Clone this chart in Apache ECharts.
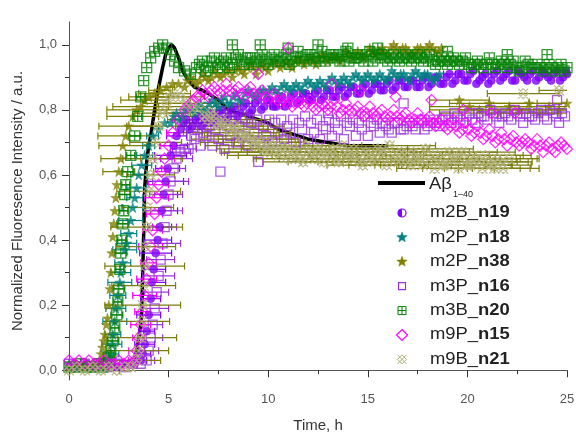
<!DOCTYPE html>
<html>
<head>
<meta charset="utf-8">
<script src="https://cdn.jsdelivr.net/npm/echarts@6/dist/echarts.min.js"></script>
<style>
  html, body { margin: 0; padding: 0; background: #fff; }
  #chart { width: 576px; height: 434px; }
</style>
</head>
<body>
<div id="chart"></div>
<script>
// ThT kinetics: normalized fluorescence vs time (h).
// Each point is [time, intensity, horizontal error (h)].

const abeta = [[0,0.01],[0.5,0.01],[1,0.01],[1.5,0.01],[2,0.01],[2.5,0.01],[3,0.02],[3.2,0.02],[3.4,0.06],[3.5,0.10],[3.6,0.14],[3.65,0.18],[3.7,0.30],[3.75,0.42],[3.8,0.56],[3.9,0.64],[4.0,0.69],[4.1,0.72],[4.3,0.80],[4.5,0.87],[4.7,0.93],[4.85,0.97],[5.0,0.99],[5.15,1.0],[5.3,0.99],[5.5,0.96],[5.7,0.92],[6.0,0.89],[6.3,0.87],[6.7,0.86],[7.0,0.85],[7.5,0.83],[8,0.80],[8.5,0.79],[9,0.78],[9.5,0.77],[10,0.76],[10.5,0.74],[11,0.73],[12,0.71],[13,0.70],[14,0.69],[15,0.69],[16,0.69]];

const m2B_n19 = [[0,0.01],[0.3,0.02],[0.6,0.01],[0.9,0.02],[1.2,0.01],[1.5,0.02],[1.8,0.01],[2.1,0.02],[2.4,0.01],[2.7,0.02],[3.0,0.02],[3.3,0.02],
  [3.6,0.03,0.3],[3.7,0.05,0.4],[3.8,0.08,0.5],[3.9,0.12,0.4],[4.0,0.17,0.6],[4.1,0.22,0.5],[4.15,0.27,0.7],[4.25,0.31,0.6],[4.35,0.36,0.8],[4.45,0.4,0.7],[4.55,0.44,0.6],[4.65,0.49,0.8],[4.75,0.54,0.7],[4.85,0.58,0.9],[4.95,0.62,0.6],[5.1,0.66,0.8],[5.25,0.69,0.7],[5.4,0.72,0.5],
  [5.6,0.74],[5.9,0.77,0.3],[6.2,0.75],[6.5,0.78],[6.8,0.76,0.4],[7.1,0.79],[7.4,0.77],[7.7,0.80,0.3],[8.0,0.78],[8.3,0.81],[8.6,0.79],[8.9,0.82,0.3],[9.2,0.80],[9.5,0.83],[9.8,0.81],[10.1,0.83],[10.4,0.81,0.3],[10.7,0.84],[11.0,0.82],[11.3,0.85],[11.6,0.83],[11.9,0.85,0.3],[12.2,0.83],[12.5,0.86],[12.8,0.84],[13.1,0.86],[13.4,0.84],[13.7,0.87,0.3],[14.0,0.85],[14.3,0.87],[14.6,0.85],[14.9,0.88],[15.2,0.86],[15.5,0.88,0.3],[15.8,0.86],[16.1,0.89],[16.4,0.87],[16.7,0.89],[17.0,0.87],[17.3,0.89,0.3],[17.6,0.87],[17.9,0.90],[18.2,0.88],[18.5,0.90],[18.8,0.88],[19.1,0.91,0.3],[19.4,0.89],[19.7,0.91],[20.0,0.89],[20.3,0.92],[20.6,0.89],[20.9,0.91,0.3],[21.2,0.89],[21.5,0.92],[21.8,0.90],[22.1,0.92],[22.4,0.89],[22.7,0.91,0.3],[23.0,0.89],[23.3,0.92],[23.6,0.90],[23.9,0.91],[24.2,0.89],[24.5,0.92,0.3],[24.8,0.90],[25.0,0.91],
  [5.75,0.76],[6.05,0.74],[6.35,0.77],[6.65,0.75],[6.95,0.78],[7.25,0.76],[7.55,0.79],[7.85,0.77],[8.15,0.80],[8.45,0.78],[8.75,0.81],[9.05,0.79],[9.35,0.82],[9.65,0.80],[9.95,0.83],[10.25,0.81],[10.55,0.83],[10.85,0.81],[11.15,0.84],[11.45,0.82],[11.75,0.85],[12.05,0.83],[12.35,0.85],[12.65,0.83],[12.95,0.86],[13.25,0.84],[13.55,0.86],[13.85,0.84],[14.15,0.87],[14.45,0.85],[14.75,0.87],[15.05,0.85],[15.35,0.88],[15.65,0.86],[15.95,0.88],[16.25,0.86],[16.55,0.89],[16.85,0.87],[17.15,0.89],[17.45,0.87],[17.75,0.89],[18.05,0.87],[18.35,0.90],[18.65,0.88],[18.95,0.90],[19.25,0.88],[19.55,0.91],[19.85,0.89],[20.15,0.91],[20.45,0.88],[20.75,0.90],[21.05,0.88],[21.35,0.91],[21.65,0.89],[21.95,0.91],[22.25,0.89],[22.55,0.92],[22.85,0.90],[23.15,0.91],[23.45,0.89],[23.75,0.92],[24.05,0.90],[24.35,0.91],[24.65,0.89],[24.95,0.92]];

const m2P_n18 = [[0,0.02],[0.3,0.01],[0.6,0.02],[0.9,0.01],[1.2,0.02],[1.5,0.01],[1.8,0.02],
  [2.05,0.03,0.3],[2.1,0.05,0.4],[2.15,0.08,0.5],[2.2,0.11,0.4],[2.3,0.15,0.6],[2.35,0.19,0.5],[2.45,0.23,0.4],[2.55,0.27,0.6],[2.6,0.3,0.5],[2.7,0.33,0.4],[2.8,0.37,0.6],[2.9,0.39,0.5],[3.0,0.42,0.4],[3.1,0.46,0.6],[3.2,0.5,0.5],[3.3,0.53,0.4],[3.4,0.56,0.5],[3.5,0.6,0.4],[3.65,0.63,0.5],[3.8,0.66,0.4],[4.0,0.69,0.3],[4.2,0.72,0.3],[4.5,0.74],[4.8,0.76],
  [5.1,0.76],[5.4,0.79],[5.7,0.78],[6.0,0.81],[6.3,0.79],[6.6,0.82],[6.9,0.80],[7.2,0.83],[7.5,0.81],[7.8,0.84],[8.1,0.82],[8.4,0.85],[8.7,0.83],[9.0,0.86],[9.3,0.84],[9.6,0.86],[9.9,0.85],[10.2,0.87],[10.5,0.85],[10.8,0.88],[11.1,0.86],[11.4,0.88],[11.7,0.86],[12.0,0.89],[12.3,0.87],[12.6,0.89],[12.9,0.87],[13.2,0.90],[13.5,0.88],[13.8,0.90],[14.1,0.88],[14.4,0.91],[14.7,0.89],[15.0,0.91],[15.3,0.89],[15.6,0.91],[15.9,0.89],[16.2,0.92],[16.5,0.90],[16.8,0.91],[17.1,0.89],[17.4,0.92],[17.7,0.90],[18.0,0.91],[18.3,0.89],[18.6,0.91],
  [5.25,0.78],[5.55,0.77],[5.85,0.80],[6.15,0.80],[6.45,0.81],[6.75,0.80],[7.05,0.82],[7.35,0.82],[7.65,0.83],[7.95,0.82],[8.25,0.84],[8.55,0.83],[8.85,0.85],[9.15,0.85],[9.45,0.85],[9.75,0.86],[10.05,0.86],[10.35,0.86],[10.65,0.87],[10.95,0.87],[11.25,0.87],[11.55,0.87],[11.85,0.88],[12.15,0.88],[12.45,0.88],[12.75,0.88],[13.05,0.89],[13.35,0.89],[13.65,0.89],[13.95,0.89],[14.25,0.90],[14.55,0.90],[14.85,0.90],[15.15,0.90],[15.45,0.90],[15.75,0.90],[16.05,0.90],[16.35,0.91],[16.65,0.91],[16.95,0.90],[17.25,0.91],[17.55,0.91],[17.85,0.91],[18.15,0.90],[18.45,0.90]];

const m2P_n38 = [[0,0.01],[0.3,0.02],[0.6,0.01],[0.9,0.01],[1.2,0.02],
  [1.5,0.02],[1.56,0.03],[1.62,0.05],[1.68,0.07],[1.75,0.09],[1.8,0.11],[1.87,0.14],[1.93,0.16],[2.0,0.2],[2.05,0.25],[2.1,0.3],[2.15,0.36],[2.2,0.41],[2.25,0.45],[2.3,0.49],[2.35,0.53],[2.4,0.57],[2.5,0.61,0.8],[2.6,0.65,1.0],[2.7,0.69,1.2],[2.85,0.72,1.4],[3.0,0.75,1.5],[3.2,0.78,1.3],[3.4,0.80,1.5],[3.6,0.81,1.4],[3.8,0.83,1.2],[4.0,0.84,1.0],[4.3,0.85,0.8],[4.6,0.86,0.6],[4.9,0.87,0.4],[5.2,0.88],[5.5,0.88],
  [5.8,0.87],[6.1,0.90],[6.4,0.88],[6.7,0.91],[7.0,0.89],[7.3,0.92],[7.6,0.90],[7.9,0.92],[8.2,0.90],[8.5,0.93],[8.8,0.91],[9.1,0.94],[9.4,0.91],[9.7,0.94],[10.0,0.92],[10.3,0.95],[10.6,0.93],[10.9,0.95],[11.2,0.93],[11.5,0.96],[11.8,0.94],[12.1,0.96],[12.4,0.94],[12.7,0.97],[13.0,0.95],[13.3,0.97],[13.6,0.95],[13.9,0.98],[14.2,0.96],[14.5,0.98],[14.8,0.96],[15.1,0.99],[15.4,0.97],[15.7,0.99],[16.0,0.97],[16.3,1.0],[16.6,0.98],[16.9,0.99],[17.2,0.97],[17.5,0.99],[17.8,0.98],[18.1,1.0],[18.4,0.98],[18.7,0.99],
  [5.95,0.89],[6.25,0.89],[6.55,0.89],[6.85,0.90],[7.15,0.90],[7.45,0.91],[7.75,0.91],[8.05,0.92],[8.35,0.92],[8.65,0.92],[8.95,0.93],[9.25,0.93],[9.55,0.93],[9.85,0.93],[10.15,0.94],[10.45,0.94],[10.75,0.94],[11.05,0.94],[11.35,0.95],[11.65,0.95],[11.95,0.95],[12.25,0.95],[12.55,0.96],[12.85,0.96],[13.15,0.96],[13.45,0.96],[13.75,0.96],[14.05,0.97],[14.35,0.97],[14.65,0.97],[14.95,0.97],[15.25,0.98],[15.55,0.98],[15.85,0.98],[16.15,0.99],[16.45,0.99],[16.75,0.99],[17.05,0.98],[17.35,0.98],[17.65,0.99],[17.95,0.99],[18.25,0.99],[18.55,0.98],
  [19.6,0.83,1.5],[20.1,0.81,2.0],[20.6,0.80,2.5],[21.1,0.82,2.0],[21.6,0.79,3.0],[22.1,0.81,2.5],[22.6,0.80,3.0],[23.1,0.82,2.0],[23.6,0.79,2.5],[24.1,0.81,3.0],[24.6,0.80,2.0],[25.0,0.82,1.5]];

const m3P_n16 = [[0,0.02],[0.4,0.01],[0.8,0.02],[1.2,0.01],[1.6,0.02],[2.0,0.01],[2.4,0.02],[2.8,0.01],[3.2,0.02],[3.6,0.02],
  [3.9,0.03,0.4],[4.0,0.06,0.5],[4.1,0.1,0.6],[4.2,0.14,0.5],[4.3,0.19,0.7],[4.4,0.24,0.6],[4.5,0.29,0.8],[4.6,0.34,0.7],[4.7,0.39,0.9],[4.8,0.44,0.6],[4.9,0.49,0.8],[5.0,0.54,0.7],[5.1,0.58,0.9],[5.25,0.62,0.6],[5.4,0.65,0.8],[5.6,0.67,0.5],[5.8,0.68,0.6],
  [6.0,0.68],[6.3,0.71],[6.6,0.69],[6.9,0.72],[7.2,0.69],[7.5,0.71],[7.8,0.68],[8.1,0.72],[8.4,0.70],[8.7,0.72],[9.0,0.69],[9.3,0.73],[9.6,0.70],[9.9,0.72],[10.2,0.70],[10.5,0.73],[10.8,0.71],[11.1,0.73],[11.4,0.70],[11.7,0.74],[12.0,0.71],[12.3,0.73],[12.6,0.71],[12.9,0.74],[13.2,0.72],[13.5,0.74],[13.8,0.71],[14.1,0.75],[14.4,0.72],[14.7,0.74],[15.0,0.72],[15.3,0.75],[15.6,0.73],[15.9,0.75],[16.2,0.73],[16.5,0.76],[16.8,0.74],[17.1,0.76],[17.4,0.74],[17.7,0.77],[18.0,0.75],[18.3,0.77],[18.6,0.75],[18.9,0.78],[19.2,0.76],[19.5,0.78],[19.8,0.76],[20.1,0.79],[20.4,0.76],[20.7,0.78],[21.0,0.77],[21.3,0.79],[21.6,0.76],[21.9,0.79],[22.2,0.77],[22.5,0.79],[22.8,0.76],[23.1,0.78],[23.4,0.77],[23.7,0.80],[24.0,0.77],[24.3,0.79],[24.6,0.76],[24.9,0.78],
  [6.15,0.72],[6.45,0.74],[6.75,0.73],[7.05,0.75],[7.35,0.74],[7.65,0.76],[7.95,0.75],[8.25,0.77],[8.55,0.75],[8.85,0.77],[9.15,0.76],[9.45,0.77],[9.75,0.75],[10.05,0.77],[10.35,0.76],[10.65,0.77],[10.95,0.75],[11.25,0.77],[11.55,0.76],[11.85,0.78],[12.15,0.76],[12.45,0.77],[12.75,0.75],[13.05,0.77],[13.35,0.76],[13.65,0.78],[13.95,0.76],[14.25,0.77],[14.55,0.76],[14.85,0.78],[15.15,0.76],[15.45,0.77],[15.75,0.76],[16.05,0.74],[16.35,0.76],[16.65,0.74],[16.95,0.75],[17.25,0.75],[17.55,0.76],[17.85,0.74],[18.15,0.76],[18.45,0.76],[18.75,0.77],[19.05,0.77],[19.35,0.79],[19.65,0.77],[19.95,0.78],[20.25,0.77],[20.55,0.79],[20.85,0.78],[21.15,0.80],[21.45,0.78],[21.75,0.78],[22.05,0.78],[22.35,0.80],[22.65,0.78],[22.95,0.79],[23.25,0.78],[23.55,0.79],[23.85,0.78],[24.15,0.80],[24.45,0.78],[24.75,0.79],
  [7.6,0.61],[9.5,0.64],[13.0,0.79],[16.8,0.82],[24.5,0.83]];

const m3B_n20 = [[0,0.01],[0.3,0.01],[0.6,0.02],[0.9,0.01],[1.2,0.01],[1.5,0.02],[1.7,0.01],
  [1.9,0.02,0.2],[2.0,0.04,0.3],[2.1,0.06,0.2],[2.2,0.09,0.3],[2.3,0.13,0.2],[2.4,0.17,0.3],[2.45,0.21,0.2],[2.5,0.25,0.3],[2.55,0.31,0.2],[2.6,0.36,0.3],[2.65,0.40,0.2],[2.7,0.45,0.3],[2.75,0.49,0.2],[2.8,0.54,0.3],[2.85,0.57,0.2],[2.95,0.61,0.3],[3.1,0.66,0.2],[3.3,0.72,0.3],[3.45,0.78,0.2],[3.6,0.84,0.2],[3.75,0.89],[3.9,0.93],[4.1,0.96],[4.3,0.98],[4.5,0.99],[4.7,1.0],[4.9,0.99],[5.1,0.97],[5.3,0.95],[5.5,0.93],[5.8,0.92],[6.1,0.91],
  [6.4,0.93],[6.7,0.95],[7.0,0.93],[7.3,0.96],[7.6,0.94],[7.9,0.96],[8.2,0.94],[8.5,0.97],[8.8,0.94],[9.1,0.96],[9.4,0.95],[9.7,0.97],[10.0,0.94],[10.3,0.97],[10.6,0.95],[10.9,0.97],[11.2,0.95],[11.5,0.98],[11.8,0.95],[12.1,0.97],[12.4,0.95],[12.7,0.98],[13.0,0.96],[13.3,0.97],[13.6,0.95],[13.9,0.98],[14.2,0.96],[14.5,0.97],[14.8,0.95],[15.1,0.98],[15.4,0.96],[15.7,0.97],[16.0,0.95],[16.3,0.97],[16.6,0.95],[16.9,0.97],[17.2,0.95],[17.5,0.97],[17.8,0.95],[18.1,0.97],[18.4,0.94],[18.7,0.96],[19.0,0.94],[19.3,0.96],[19.6,0.94],[19.9,0.96],[20.2,0.93],[20.5,0.95],[20.8,0.93],[21.1,0.96],[21.4,0.93],[21.7,0.95],[22.0,0.93],[22.3,0.95],[22.6,0.92],[22.9,0.95],[23.2,0.93],[23.5,0.94],[23.8,0.92],[24.1,0.94],[24.4,0.92],[24.7,0.94],[25.0,0.93],
  [6.55,0.94],[6.85,0.92],[7.15,0.95],[7.45,0.93],[7.75,0.95],[8.05,0.93],[8.35,0.96],[8.65,0.95],[8.95,0.96],[9.25,0.94],[9.55,0.96],[9.85,0.95],[10.15,0.96],[10.45,0.95],[10.75,0.96],[11.05,0.94],[11.35,0.96],[11.65,0.96],[11.95,0.97],[12.25,0.96],[12.55,0.96],[12.85,0.95],[13.15,0.97],[13.45,0.96],[13.75,0.97],[14.05,0.95],[14.35,0.96],[14.65,0.96],[14.95,0.97],[15.25,0.95],[15.55,0.97],[15.85,0.96],[16.15,0.96],[16.45,0.96],[16.75,0.96],[17.05,0.96],[17.35,0.96],[17.65,0.96],[17.95,0.96],[18.25,0.95],[18.55,0.95],[18.85,0.95],[19.15,0.95],[19.45,0.95],[19.75,0.95],[20.05,0.94],[20.35,0.94],[20.65,0.94],[20.95,0.94],[21.25,0.94],[21.55,0.94],[21.85,0.94],[22.15,0.94],[22.45,0.93],[22.75,0.93],[23.05,0.94],[23.35,0.93],[23.65,0.93],[23.95,0.93],[24.25,0.93],[24.55,0.93],[24.85,0.92],
  [8.2,1.0],[9.6,1.0],[11.0,0.99],[12.5,1.0],[14.0,0.99],[15.5,0.99],[19.0,0.98],[22.0,0.97],[24.0,0.97]];

const m9P_n15 = [[0,0.03],[0.25,0.02],[0.5,0.03],[0.75,0.02],[1.0,0.03],[1.25,0.02],[1.5,0.02],[1.75,0.03],[2.0,0.02],[2.25,0.02],[2.5,0.03],[2.75,0.02],[3.0,0.03],[3.2,0.02],
  [3.3,0.03,0.3],[3.4,0.06,0.4],[3.5,0.1,0.3],[3.6,0.14,0.5],[3.7,0.18,0.4],[3.8,0.23,0.6],[3.9,0.28,0.5],[4.0,0.33,0.4],[4.1,0.38,0.6],[4.2,0.43,0.5],[4.3,0.48,0.4],[4.4,0.53,0.6],[4.5,0.57,0.5],[4.65,0.61,0.4],[4.8,0.65,0.5],[5.0,0.69,0.4],[5.2,0.73,0.3],[5.5,0.77,0.3],
  [5.8,0.80],[6.1,0.82],[6.4,0.84],[6.7,0.86],[7.0,0.84],[7.3,0.87],[7.6,0.85],[7.9,0.88],[8.2,0.85],[8.5,0.87],[8.8,0.84],[9.1,0.87],[9.4,0.84],[9.7,0.86],[10.0,0.83],[10.3,0.85],[10.6,0.82],[10.9,0.84],[11.2,0.81],[11.5,0.84],[11.8,0.81],[12.1,0.83],[12.4,0.80],[12.7,0.82],[13.0,0.80],[13.3,0.83],[13.6,0.79],[13.9,0.82],[14.2,0.79],[14.5,0.81],[14.8,0.78],[15.1,0.81],[15.4,0.78],[15.7,0.80],[16.0,0.77],[16.3,0.80],[16.6,0.77],[16.9,0.79],[17.2,0.76],[17.5,0.79],[17.8,0.76],[18.1,0.78],[18.4,0.75],[18.7,0.77],[19.0,0.74],[19.3,0.77],[19.6,0.73],[19.9,0.76],[20.2,0.72],[20.5,0.75],[20.8,0.71],[21.1,0.74],[21.4,0.70],[21.7,0.73],[22.0,0.69],[22.3,0.72],[22.6,0.69],[22.9,0.71],[23.2,0.68],[23.5,0.71],[23.8,0.67],[24.1,0.70],[24.4,0.67],[24.7,0.70],[25.0,0.68],
  [5.95,0.81],[6.25,0.83],[6.55,0.84],[6.85,0.85],[7.15,0.86],[7.45,0.86],[7.75,0.86],[8.05,0.86],[8.35,0.86],[8.65,0.85],[8.95,0.86],[9.25,0.85],[9.55,0.85],[9.85,0.84],[10.15,0.84],[10.45,0.83],[10.75,0.83],[11.05,0.82],[11.35,0.82],[11.65,0.82],[11.95,0.82],[12.25,0.81],[12.55,0.81],[12.85,0.81],[13.15,0.81],[13.45,0.81],[13.75,0.80],[14.05,0.80],[14.35,0.80],[14.65,0.79],[14.95,0.79],[15.25,0.79],[15.55,0.79],[15.85,0.78],[16.15,0.78],[16.45,0.78],[16.75,0.78],[17.05,0.77],[17.35,0.77],[17.65,0.77],[17.95,0.77],[18.25,0.76],[18.55,0.76],[18.85,0.75],[19.15,0.75],[19.45,0.75],[19.75,0.74],[20.05,0.74],[20.35,0.73],[20.65,0.73],[20.95,0.72],[21.25,0.72],[21.55,0.71],[21.85,0.71],[22.15,0.71],[22.45,0.70],[22.75,0.70],[23.05,0.70],[23.35,0.69],[23.65,0.69],[23.95,0.69],[24.25,0.68],[24.55,0.69],[24.85,0.69],
  [9.5,0.91],[11.0,0.99],[13.2,0.88],[14.6,0.86],[16.4,0.84],[18.2,0.83],[19.8,0.80],[21.2,0.79],[22.4,0.79]];

const m9B_n21 = [[0,0.0],[0.4,0.01],[0.8,0.0],[1.2,0.01],[1.6,0.0],[2.0,0.01],[2.4,0.0],[2.8,0.01],[3.1,0.01],
  [3.4,0.03,1.2],[3.5,0.06,1.5],[3.6,0.10,1.8],[3.65,0.15,1.4],[3.7,0.2,1.9],[3.75,0.26,1.6],[3.8,0.32,2.0],[3.85,0.38,1.5],[3.9,0.44,1.8],[3.95,0.5,1.3],[4.0,0.55,1.6],[4.1,0.6,1.2],[4.2,0.65,1.5],[4.35,0.7,1.3],[4.5,0.75,1.6],[4.7,0.79,1.4],[4.9,0.82,1.2],[5.1,0.84,1.0],[5.3,0.85,0.8],[5.6,0.84,1.2],[5.9,0.82,1.5],[6.2,0.80,1.8],[6.5,0.81,2.0],[6.8,0.78,1.6],[7.1,0.79,2.2],[7.4,0.76,1.8],[7.7,0.77,2.4],[8.0,0.74,2.0],[8.3,0.75,2.5],[8.6,0.72,1.8],[8.9,0.73,2.2],[9.2,0.70,2.6],[9.5,0.71,2.0],[9.8,0.68,2.4],[10.1,0.70,1.8],[10.4,0.67,2.6],[10.7,0.69,2.0],[11.0,0.66,2.5],[11.3,0.68,1.8],[11.6,0.65,2.2],[11.9,0.69,2.8],[12.2,0.66,2.0],[12.5,0.68,2.4],[12.8,0.64,1.8],[13.1,0.67,2.6],[13.4,0.65,2.0],[13.7,0.69,2.3],[14.0,0.66,1.9],[14.3,0.68,2.7],[14.6,0.64,2.1],[14.9,0.67,2.4],[15.2,0.65,1.8],[15.5,0.68,2.6],[15.8,0.66,2.0],[16.1,0.69,2.3],[16.4,0.65,1.9],[16.7,0.67,2.5],[17.0,0.64,2.2],[17.3,0.67,2.8],[17.6,0.65,2.0],[17.9,0.68,2.4],[18.2,0.64,1.8],[18.5,0.66,2.6],[18.8,0.63,2.1],[19.1,0.67,2.4],[19.4,0.65,2.0],[19.7,0.67,2.7],[20.0,0.63,2.2],[20.3,0.66,2.5],[20.6,0.64,1.9],[20.9,0.66,2.3],[21.2,0.63,2.0],[21.5,0.65,2.0],[21.8,0.62,1.8],[22.1,0.65,1.5],
  [6.95,0.77,2.0],[7.25,0.78,1.6],[7.55,0.75,2.2],[7.85,0.76,1.8],[8.15,0.73,2.4],[8.45,0.74,2.0],[8.75,0.71,2.6],[9.05,0.72,2.1],[9.35,0.69,2.5],[9.65,0.70,1.9],[9.95,0.67,2.3],[10.25,0.69,2.0],[10.55,0.66,2.6],[10.85,0.68,2.2],[11.15,0.65,1.9],[11.45,0.67,2.5],[11.75,0.64,2.0],[12.05,0.67,2.4],[12.35,0.65,1.8],[12.65,0.67,2.6],[12.95,0.66,2.1],[13.25,0.68,2.3],[13.55,0.64,1.9],[13.85,0.67,2.5],[14.15,0.65,2.0],[14.45,0.66,2.4],[14.75,0.63,1.8],[15.05,0.66,2.6],[15.35,0.64,2.1],[15.65,0.67,2.3],[15.95,0.63,1.9],[16.25,0.66,2.5],[16.55,0.64,2.0],[16.85,0.66,2.4],[17.15,0.63,1.8],[17.45,0.65,2.6],[17.75,0.63,2.1],[18.05,0.66,2.3],[18.35,0.62,1.9],[18.65,0.65,2.5],[18.95,0.63,2.0],[19.25,0.65,2.4],[19.55,0.62,1.8],[19.85,0.65,2.6],[20.15,0.63,2.1],[20.45,0.65,2.2],[20.75,0.62,1.9],[21.05,0.64,2.0],[21.35,0.62,1.8],[21.65,0.64,1.6],
  [22.8,0.85,1.8],[24.6,0.86,1.0]];

// axis tick values
const xTicks = [0, 5, 10, 15, 20, 25];
const yMajorTicks = [0, 0.2, 0.4, 0.6, 0.8, 1.0];
const yMinorTicks = [0.1, 0.3, 0.5, 0.7, 0.9];

const FONT = 'Liberation Sans, Arial, sans-serif';

const STAR = 'path://M50,2 L61,37 L98,37 L68,59 L79,95 L50,73 L21,95 L32,59 L2,37 L39,37 Z';
const BOXCROSS = 'path://M1,1 L19,1 L19,19 L1,19 Z M10,1 L10,19 M1,10 L19,10';
const DOUBLEX = 'path://M1,1 L19,19 M19,1 L1,19 M10,1 L19,10 L10,19 L1,10 Z';

const groups = [
  { label: ['m2B_', 'n19'], data: m2B_n19, color: '#7f00ff', symbol: 'circle', size: 8, filled: true, bar: '#7f00ff' },
  { label: ['m2P_', 'n18'], data: m2P_n18, color: '#008080', symbol: STAR, size: 10, filled: true, bar: '#008080' },
  { label: ['m2P_', 'n38'], data: m2P_n38, color: '#808000', symbol: STAR, size: 10, filled: true, bar: '#808000' },
  { label: ['m3P_', 'n16'], data: m3P_n16, color: '#9933dd', symbol: 'rect', size: 9, filled: false, bar: '#9933dd' },
  { label: ['m3B_', 'n20'], data: m3B_n20, color: '#008000', symbol: BOXCROSS, size: 10, filled: false, bar: '#008000' },
  { label: ['m9P_', 'n15'], data: m9P_n15, color: '#ff00ff', symbol: 'diamond', size: 11, filled: false, bar: '#ff00ff' },
  { label: ['m9B_', 'n21'], data: m9B_n21, color: '#b0b078', symbol: DOUBLEX, size: 10, filled: false, bar: '#7d7d10' }
];

function errorBars(g) {
  const pts = g.data.filter(p => (p[2] || 0) > 0).map(p => [p[0], p[1], p[2]]);
  return {
    type: 'custom',
    clip: true,
    silent: true,
    z: 2,
    data: pts,
    encode: { x: 0, y: 1 },
    renderItem: function (params, api) {
      const t = api.value(0), v = api.value(1), e = api.value(2);
      const a = api.coord([t - e, v]);
      const b = api.coord([t + e, v]);
      const st = { stroke: g.bar, lineWidth: 1.2, fill: null };
      return {
        type: 'group',
        children: [
          { type: 'line', shape: { x1: a[0], y1: a[1], x2: b[0], y2: b[1] }, style: st },
          { type: 'line', shape: { x1: a[0], y1: a[1] - 3.5, x2: a[0], y2: a[1] + 3.5 }, style: st },
          { type: 'line', shape: { x1: b[0], y1: b[1] - 3.5, x2: b[0], y2: b[1] + 3.5 }, style: st }
        ]
      };
    }
  };
}

const series = [{
  type: 'line',
  name: 'Aβ1-40',
  data: abeta,
  showSymbol: false,
  symbol: 'none',
  lineStyle: { color: '#000', width: 3.5 },
  z: 1
}];

groups.forEach(g => {
  series.push(errorBars(g));
  series.push({
    type: 'scatter',
    name: g.label.join(''),
    clip: false,
    z: 2,
    data: g.data.map(p => [p[0], p[1]]),
    symbol: g.symbol,
    symbolSize: g.size,
    itemStyle: g.filled
      ? { color: g.color, borderColor: g.color, borderWidth: 0.6 }
      : { color: 'rgba(255,255,255,0)', borderColor: g.color, borderWidth: 1.3 }
  });
});

// legend drawn with graphic elements
const LX = 402, TX = 430, Y0 = 213, DY = 24.4;
function starPoints(cx, cy, r) {
  const pts = [];
  for (let i = 0; i < 10; i++) {
    const ang = -Math.PI / 2 + i * Math.PI / 5;
    const rr = i % 2 === 0 ? r : r * 0.42;
    pts.push([cx + rr * Math.cos(ang), cy + rr * Math.sin(ang)]);
  }
  return pts;
}
function legendIcon(i, g, y) {
  const c = g.color;
  switch (i) {
    case 0: return [
      { type: 'circle', shape: { cx: LX, cy: y, r: 4 }, style: { fill: '#fff', stroke: c, lineWidth: 1.2 } },
      { type: 'sector', shape: { cx: LX, cy: y, r: 4, r0: 0, startAngle: Math.PI / 2, endAngle: Math.PI * 1.5 }, style: { fill: c } }
    ];
    case 1: case 2: return [{ type: 'polygon', shape: { points: starPoints(LX, y, 5.5) }, style: { fill: c, stroke: c, lineWidth: 0.5 } }];
    case 3: return [{ type: 'rect', shape: { x: LX - 3.5, y: y - 3.5, width: 7, height: 7 }, style: { fill: 'none', stroke: c, lineWidth: 1.2 } }];
    case 4: return [
      { type: 'rect', shape: { x: LX - 4, y: y - 4, width: 8, height: 8 }, style: { fill: 'none', stroke: c, lineWidth: 1 } },
      { type: 'line', shape: { x1: LX, y1: y - 4, x2: LX, y2: y + 4 }, style: { stroke: c, lineWidth: 1 } },
      { type: 'line', shape: { x1: LX - 4, y1: y, x2: LX + 4, y2: y }, style: { stroke: c, lineWidth: 1 } }
    ];
    case 5: return [{ type: 'polygon', shape: { points: [[LX, y - 5.5], [LX + 5.5, y], [LX, y + 5.5], [LX - 5.5, y]] }, style: { fill: 'none', stroke: c, lineWidth: 1.2 } }];
    default: return [
      { type: 'polyline', shape: { points: [[LX - 4.5, y - 4.5], [LX + 4.5, y + 4.5]] }, style: { stroke: c, lineWidth: 1 } },
      { type: 'polyline', shape: { points: [[LX + 4.5, y - 4.5], [LX - 4.5, y + 4.5]] }, style: { stroke: c, lineWidth: 1 } },
      { type: 'polygon', shape: { points: [[LX, y - 4.5], [LX + 4.5, y], [LX, y + 4.5], [LX - 4.5, y]] }, style: { fill: 'none', stroke: c, lineWidth: 1 } }
    ];
  }
}

const legendEls = [
  { type: 'line', shape: { x1: 378, y1: 183, x2: 425, y2: 183 }, style: { stroke: '#000', lineWidth: 4 } },
  { type: 'text', x: 429, y: 185, scaleX: 1.15, style: { text: 'Aβ', font: '16px ' + FONT, fill: '#222', verticalAlign: 'middle' } },
  { type: 'text', x: 453, y: 195, style: { text: '1–40', font: '9px ' + FONT, fill: '#222', verticalAlign: 'middle' } }
];
groups.forEach((g, i) => {
  const y = Y0 + i * DY;
  legendIcon(i, g, y).forEach(el => legendEls.push(el));
  legendEls.push({
    type: 'text', x: TX, y: y, scaleX: 1.15,
    style: {
      text: '{r|' + g.label[0] + '}{b|' + g.label[1] + '}',
      verticalAlign: 'middle',
      rich: {
        r: { fontSize: 16, fontFamily: FONT, fill: '#222' },
        b: { fontSize: 16, fontFamily: FONT, fontWeight: 'bold', fill: '#222' }
      }
    }
  });
});

const chart = echarts.init(document.getElementById('chart'), null, { renderer: 'canvas' });
const fmt = v => (Math.round(v * 10) / 10).toFixed(1).replace('.', ',');

chart.setOption({
  animation: false,
  backgroundColor: '#fff',
  grid: { left: 69, right: 9, top: 22, bottom: 54, containLabel: false, outerBoundsMode: 'none' },
  xAxis: {
    type: 'value', min: 0, max: 25, interval: 5,
    name: 'Time, h', nameLocation: 'middle', nameGap: 38, nameMoveOverlap: false,
    nameTextStyle: { fontFamily: FONT, fontSize: 15, color: '#333' },
    axisLine: { lineStyle: { color: '#555', width: 1 } },
    axisTick: { show: true, inside: false, length: 7, lineStyle: { color: '#333' }, customValues: xTicks },
    minorTick: { show: true, splitNumber: 2, length: 4, lineStyle: { color: '#333' } },
    axisLabel: { fontFamily: FONT, fontSize: 13, color: '#555', margin: 13, customValues: xTicks },
    splitLine: { show: false }
  },
  yAxis: [{
    type: 'value', min: -0.03, max: 1.07,
    name: 'Normalized Fluoresence Intensity / a.u.', nameLocation: 'middle', nameGap: 44, nameRotate: 90, nameMoveOverlap: false,
    nameTextStyle: { fontFamily: FONT, fontSize: 15, color: '#333' },
    axisLine: { show: true, lineStyle: { color: '#555', width: 1 } },
    axisTick: { show: true, inside: false, length: 7, lineStyle: { color: '#333' }, customValues: yMajorTicks },
    axisLabel: { fontFamily: FONT, fontSize: 13, color: '#555', margin: 12, customValues: yMajorTicks, formatter: fmt },
    splitLine: { show: false }
  }, {
    type: 'value', min: -0.03, max: 1.07, position: 'left',
    axisLine: { show: false },
    axisTick: { show: true, inside: false, length: 4, lineStyle: { color: '#333' }, customValues: yMinorTicks },
    axisLabel: { show: false },
    splitLine: { show: false }
  }],
  graphic: { elements: legendEls },
  series: series
});
</script>
</body>
</html>
